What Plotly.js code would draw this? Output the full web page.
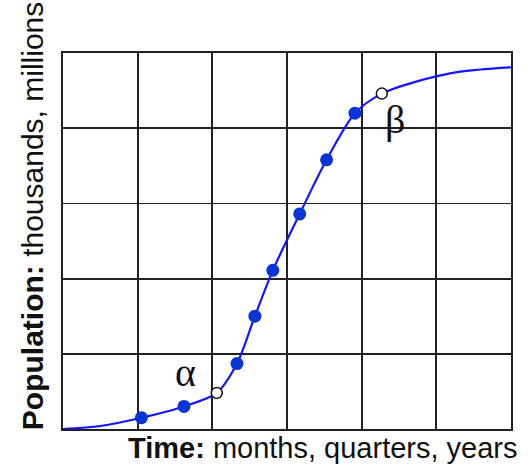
<!DOCTYPE html>
<html>
<head>
<meta charset="utf-8">
<script src="https://cdn.plot.ly/plotly-3.0.1.min.js"></script>
<style>html,body{margin:0;padding:0;background:#fff;}#chart{width:529px;height:464px;}</style>
</head>
<body>
<div id="chart"></div>
<script>
// Curve (time units, population units)
const curveX = [0, 0.5, 1.05, 1.62, 2.06, 2.33, 2.57, 2.81, 3.17, 3.53, 3.91, 4.27, 4.8, 5.3, 6.0];
const curveY = [0, 0.04, 0.15, 0.30, 0.48, 0.87, 1.50, 2.11, 2.86, 3.58, 4.20, 4.46, 4.64, 4.75, 4.81];
// Observed (filled) points
const obsX = [1.05, 1.62, 2.33, 2.57, 2.81, 3.17, 3.53, 3.91];
const obsY = [0.15, 0.30, 0.87, 1.50, 2.11, 2.86, 3.58, 4.20];
// Marked points (open)
const markLabels = ["α", "β"];
const markX = [2.06, 4.27];
const markY = [0.48, 4.46];
const xTitle = "<b>Time:</b> months, quarters, years";
const yTitle = "<b>Population:</b> thousands, millions";

const traces = [
  {x: curveX, y: curveY, mode: "lines", line: {color: "#1515ff", width: 2.2, shape: "spline", smoothing: 0.8}, hoverinfo: "skip"},
  {x: obsX, y: obsY, mode: "markers", marker: {color: "#0a35d6", size: 13}},
  {x: markX, y: markY, mode: "markers", marker: {color: "#ffffff", size: 11, line: {color: "#111", width: 1.5}}}
];

const layout = {
  width: 529, height: 464,
  margin: {l: 63, r: 18, t: 53, b: 35},
  paper_bgcolor: "#fff", plot_bgcolor: "#fff",
  showlegend: false,
  xaxis: {range: [0, 6], dtick: 1, tick0: 0, showticklabels: false, ticks: "", zeroline: false,
          showgrid: true, gridcolor: "#222", gridwidth: 1.8,
          showline: true, linecolor: "#222", linewidth: 2.4, mirror: true, fixedrange: true},
  yaxis: {range: [0, 5], dtick: 1, tick0: 0, showticklabels: false, ticks: "", zeroline: false,
          showgrid: true, gridcolor: "#222", gridwidth: 1.8,
          showline: true, linecolor: "#222", linewidth: 2.4, mirror: true, fixedrange: true},
  annotations: [
    {text: xTitle, xref: "paper", yref: "paper", x: 1.02, y: -0.02, xanchor: "right", yanchor: "top", yshift: 7,
     showarrow: false, font: {family: "Liberation Sans, Arial, sans-serif", size: 29, color: "#111"}},
    {text: yTitle, xref: "paper", yref: "paper", x: -0.08, y: 0.5, xanchor: "center", yanchor: "middle", textangle: -90,
     xshift: 5, yshift: 25, showarrow: false, font: {family: "Liberation Sans, Arial, sans-serif", size: 30, color: "#111"}},
    {text: markLabels[0], x: markX[0], y: markY[0], xanchor: "center", yanchor: "middle", xshift: -31, yshift: 20,
     showarrow: false, font: {family: "Liberation Serif, Times New Roman, serif", size: 40, color: "#111"}},
    {text: markLabels[1], x: markX[1], y: markY[1], xanchor: "center", yanchor: "middle", xshift: 13, yshift: -26,
     showarrow: false, font: {family: "Liberation Serif, Times New Roman, serif", size: 40, color: "#111"}}
  ]
};

Plotly.newPlot("chart", traces, layout, {displayModeBar: false, staticPlot: true});
</script>
</body>
</html>
